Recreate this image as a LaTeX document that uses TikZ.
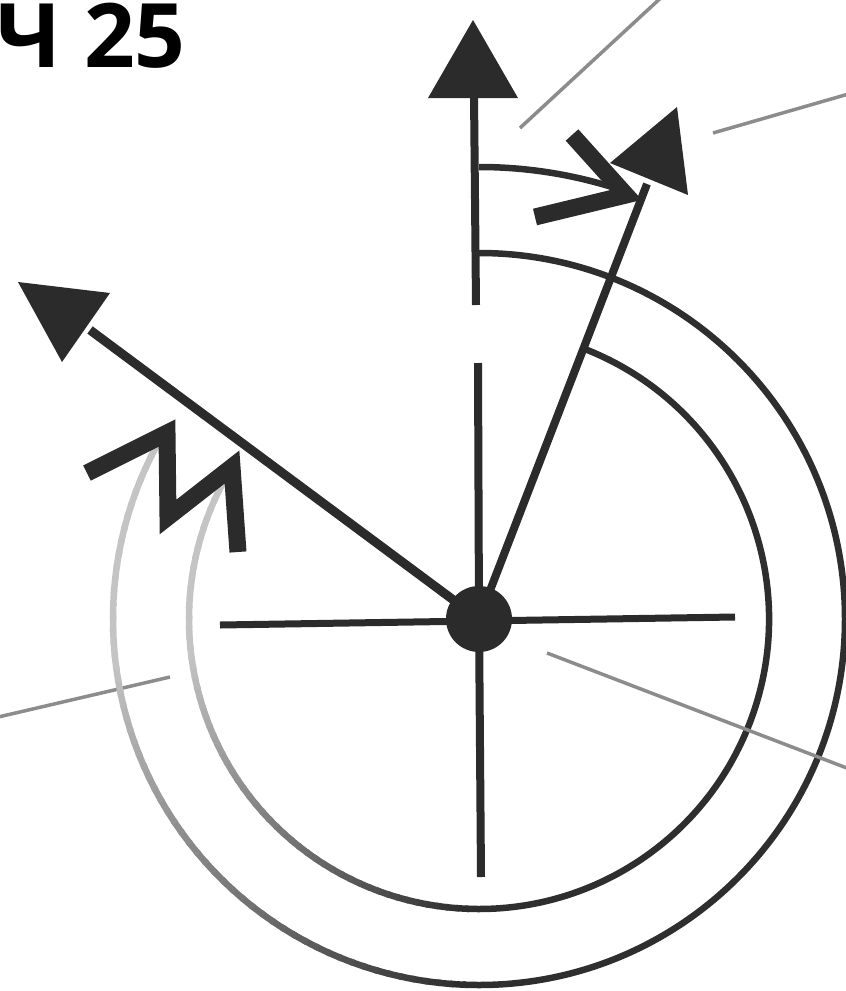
\documentclass[tikz,border=0pt]{standalone}
\usepackage{fontspec}
\newfontfamily\titlefont{Open Sans}
\definecolor{ink}{HTML}{2B2B2B}
\definecolor{arcdark}{HTML}{2E2E2E}
\definecolor{arclight}{HTML}{C4C4C4}
\definecolor{leader}{HTML}{8C8C8C}
\begin{document}
\begin{tikzpicture}[x=1pt,y=1pt,
  axisline/.style={draw=ink, line width=8pt, line cap=butt},
  arcline/.style={line width=6.5pt, line cap=butt},
  headfill/.style={fill=ink},
  leaderline/.style={draw=leader, line width=3.5pt},
  zigline/.style={draw=ink, line width=17pt, line join=miter, line cap=butt}]
\useasboundingbox (0,0) rectangle (846,-991);

% title
\node[anchor=base east, inner sep=0pt] (title) at (186,-67)
  {\titlefont\bfseries\fontsize{89}{96}\selectfont Ч 25};

% hub
\coordinate (O) at (479,-619);

% leader lines
\coordinate (l1a) at (520,-128); \coordinate (l1b) at (665,6);
\coordinate (l2a) at (713,-133); \coordinate (l2b) at (852,-93);
\coordinate (l3a) at (170,-677); \coordinate (l3b) at (-6,-718);
\coordinate (l4a) at (547,-653); \coordinate (l4b) at (852,-770);
\draw[leaderline] (l1a) -- (l1b);
\draw[leaderline] (l2a) -- (l2b);
\draw[leaderline] (l3a) -- (l3b);

% outer arc: dark part then fading part
\def\Ro{366}
\draw[arcline, draw=arcdark] ([shift={(90:\Ro)}]O) arc[start angle=90, end angle=-90, radius=\Ro];
\foreach \a in {-90,-92,...,-210}{
  \pgfmathsetmacro\p{min(100,max(0,(-92-\a)/80*100))}
  \pgfmathsetmacro\e{max(-210.8,\a-2.6)}
  \draw[arcline, draw=arclight!\p!arcdark] ([shift={(\a:\Ro)}]O) arc[start angle=\a, end angle=\e, radius=\Ro];
}

% inner arc
\def\Ri{290}
\draw[arcline, draw=arcdark] ([shift={(69:\Ri)}]O) arc[start angle=69, end angle=-90, radius=\Ri];
\foreach \a in {-90,-92,...,-210}{
  \pgfmathsetmacro\p{min(100,max(0,(-92-\a)/80*100))}
  \pgfmathsetmacro\e{max(-211.6,\a-2.6)}
  \draw[arcline, draw=arclight!\p!arcdark] ([shift={(\a:\Ri)}]O) arc[start angle=\a, end angle=\e, radius=\Ri];
}

% small top arc with open chevron head
\coordinate (cStart) at ([shift={(90:452)}]O);
\coordinate (cTip) at (626,-195);
\draw[arcline, draw=arcdark] (cStart) arc[start angle=90, end angle=71, radius=452];
\coordinate (chA) at (572,-135);
\coordinate (chB) at (535,-217);
\draw[zigline] (chA) -- (cTip) -- (chB);

% vertical axis with arrow
\coordinate (vTip) at (473,-20);
\coordinate (vB1) at (428,-98);
\coordinate (vB2) at (518,-98);
\coordinate (vTop) at (474,-94);
\coordinate (vGapA) at (476,-305);
\coordinate (vGapB) at (478,-363);
\coordinate (vBot) at (481,-877);
\fill[headfill] (vTip) -- (vB1) -- (vB2) -- cycle;
\draw[axisline] (vTop) -- (vGapA);
\draw[axisline] (vGapB) -- (O) -- (vBot);

% horizontal axis
\coordinate (hL) at (220,-625);
\coordinate (hR) at (735,-617);
\draw[axisline, line width=7pt] (hL) -- (hR);

% tilted arrow
\coordinate (tTip) at (677,-107);
\coordinate (tB1) at (610,-163);
\coordinate (tB2) at (688,-195);
\coordinate (tEnd) at (647,-184);
\draw[axisline] (O) -- (tEnd);
\fill[headfill] (tTip) -- (tB1) -- (tB2) -- cycle;

% left arrow
\coordinate (lTip) at (18,-282);
\coordinate (lB1) at (110,-293);
\coordinate (lB2) at (62,-362);
\coordinate (lEnd) at (90,-330);
\draw[axisline, line width=9pt] (O) -- (lEnd);
\fill[headfill] (lTip) -- (lB1) -- (lB2) -- cycle;

% zigzag double head on faded arcs
\coordinate (z1) at (87,-473);
\coordinate (z2) at (167,-433);
\coordinate (z3) at (168,-517);
\coordinate (z4) at (232,-467);
\coordinate (z5) at (238,-552);
\draw[zigline] (z1) -- (z2) -- (z3) -- (z4) -- (z5);

% hub dot
\node[circle, fill=ink, minimum size=66pt, inner sep=0pt] (hub) at (O) {};

\draw[leaderline] (l4a) -- (l4b);
\end{tikzpicture}
\end{document}
